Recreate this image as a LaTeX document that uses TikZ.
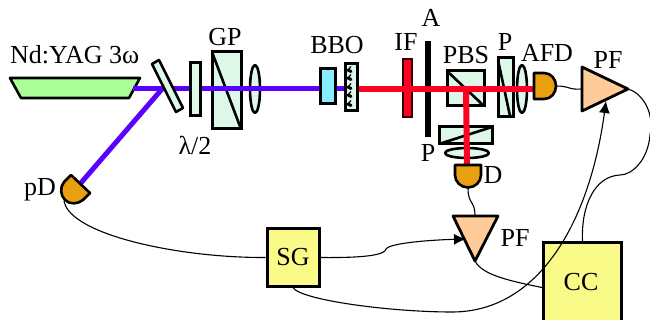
\documentclass[tikz,border=0pt]{standalone}
\usepackage{fontspec}
\setmainfont{Liberation Serif}
\usetikzlibrary{arrows.meta}
\definecolor{mint}{HTML}{DDF8E8}
\definecolor{laser}{HTML}{AAFF99}
\definecolor{cyanbox}{HTML}{88EEFF}
\definecolor{det}{HTML}{E8A010}
\definecolor{amp}{HTML}{FFCC99}
\definecolor{yel}{HTML}{FAFA88}
\definecolor{uv}{HTML}{5A00FF}
\definecolor{redb}{HTML}{FF0022}
\tikzset{
  opt/.style={draw=black,line width=2.6pt,fill=mint,line join=round},
  platen/.style={draw=black,line width=3pt,fill=mint,inner sep=0pt,outer sep=0pt},
  boxn/.style={draw=black,line width=3pt,fill=yel,inner sep=0pt,font=\fontsize{26}{26}\selectfont},
  ampl/.style={draw=black,line width=2.8pt,fill=amp,line join=round},
  detc/.style={draw=black,line width=2.6pt,fill=det,line join=round},
  wire/.style={draw=black,line width=1.1pt},
  lab/.style={inner sep=0pt,font=\fontsize{26}{26}\selectfont},
  uvb/.style={draw=uv,line width=5pt},
  redbeam/.style={draw=redb,line width=6pt},
  tip/.style={-{Latex[length=12pt,width=11pt]}}
}
\begin{document}
\begin{tikzpicture}[x=1pt,y=-1pt]
\useasboundingbox (0,0) rectangle (650,320);
\clip (0,0) rectangle (650,320);
% anchors
\coordinate (mirror) at (162,89);
\coordinate (laserOut) at (133,89);
\coordinate (bboIn) at (345,89);
\coordinate (gratOut) at (357,89);
\coordinate (split) at (466,89);
\coordinate (afdIn) at (534,89);
\coordinate (dIn) at (467,165);
\coordinate (pdIn) at (80,184);
\coordinate (pdOut) at (64,201);
\coordinate (afdOut) at (556,86);
\coordinate (dOut) at (468,188);
\coordinate (pfA) at (582,89);
\coordinate (pfAtip) at (628,89);
\coordinate (pfAbot) at (606,101);
\coordinate (pfBtop) at (475,216);
\coordinate (pfBin) at (466,239);
\coordinate (pfBtip) at (475,261);
% laser
\draw[draw=black,line width=2.6pt,fill=laser,line join=round] (10,78) -- (140,78) -- (129,98) -- (21,98) -- cycle;
% optics under the beams
\node[platen,minimum width=29pt,minimum height=77pt] (gp) at (226.5,90.5) {};
\draw[opt] (gp.north west) -- (gp.south east);
\draw[opt] (255,89) ellipse (5 and 24);
\node[platen,minimum width=37pt,minimum height=35pt] (pbs) at (465.5,88.5) {};
\draw[opt] (pbs.north west) -- (pbs.south east);
\node[platen,draw=black!80!red,line width=1.8pt,fill=redb,minimum width=9pt,minimum height=58pt] (if) at (407.5,88) {};
\draw[black,line width=5.5pt] (428,41) -- (428,137);
\node[platen,minimum width=15pt,minimum height=59pt] (pol) at (505.5,87.5) {};
\draw[opt] (498,60) -- (510,116);
\draw[opt] (522,89) ellipse (5 and 24);
\node[platen,minimum width=53pt,minimum height=17pt] (polb) at (465.5,135.5) {};
\draw[opt] (polb.south west) -- (polb.north east);
\draw[opt] (467,153) ellipse (22 and 5);
% beams
\draw[uvb] (laserOut) -- (bboIn);
\draw[uvb] (mirror) -- (pdIn);
\draw[redbeam] (gratOut) -- (afdIn);
\draw[redbeam] (split) -- (dIn);
% optics over the beams
\draw[opt] (152,64) -- (159,60) -- (183,108) -- (176,112) -- cycle;
\node[platen,minimum width=10pt,minimum height=53pt] (wp) at (195,89.5) {};
\node[platen,fill=cyanbox,minimum width=15pt,minimum height=35pt] (bbo) at (327.5,86.5) {};
\node[platen,minimum width=12pt,minimum height=47pt] (grat) at (351,87.5) {};
\foreach \yy in {70,78,87,95,104}{
  \draw[black,line width=3pt,line cap=round] (348,\yy) -- (351,\yy+1.5);
  \draw[black,line width=1.2pt] (351,\yy-3.5) -- (348,\yy);
}
% detectors
\draw[detc] (534,73) -- (544,73) .. controls (551,73) and (556,79) .. (556,86) .. controls (556,93) and (551,99) .. (544,99) -- (534,99) -- cycle;
\draw[detc] (455,165) -- (481,165) -- (481,175) .. controls (481,182) and (475,187.5) .. (468,187.5) .. controls (461,187.5) and (455,182) .. (455,175) -- cycle;
\draw[detc] (71,175) -- (90,193) -- (83,200) .. controls (78,204) and (70,205) .. (65,200) .. controls (60,195) and (60,187) .. (64,182) -- cycle;
% amplifiers
\draw[ampl] (582,67) -- (582,111) -- (pfAtip) -- cycle;
\draw[ampl] (453,216) -- (498,216) -- (pfBtip) -- cycle;
% boxes
\node[boxn,minimum width=52pt,minimum height=57pt] (SG) at (293,257.5) {SG};
\node[boxn,minimum width=78pt,minimum height=90pt,anchor=north west] (CC) at (542,241) {};
\node[lab] (cctext) at (581,282) {CC};
% wires
\draw[wire] (afdOut) .. controls (570,86) and (568,90) .. (pfA);
\draw[wire] (dOut) .. controls (468,205) and (475,200) .. (pfBtop);
\draw[wire] (pdOut) .. controls (70,235) and (180,258) .. (SG.west);
\draw[wire,tip] (SG.east) .. controls (365,258) and (385,255) .. (386,249) .. controls (390,243) and (430,240) .. (pfBin);
\draw[wire] (pfBtip) .. controls (482,275) and (510,281) .. (CC.west);
\draw[wire,tip] (SG.south) .. controls (300,300) and (390,312) .. (452,312) .. controls (540,312) and (590,220) .. (pfAbot);
\draw[wire] (pfAtip) .. controls (640,92) and (655,110) .. (650,135) .. controls (648,160) and (632,175) .. (620,175) .. controls (595,176) and (581,205) .. (CC.north);
% labels
\node[lab,anchor=base west] (tNd) at (10,64) {Nd:YAG 3ω};
\node[lab] (tGP) at (225,37) {GP};
\node[lab] (tLam) at (195,145) {λ/2};
\node[lab] (tBBO) at (337,45) {BBO};
\node[lab] (tIF) at (406,42) {IF};
\node[lab] (tA) at (431,18) {A};
\node[lab] (tPb) at (428,153) {P};
\node[lab] (tPBS) at (466,55) {PBS};
\node[lab] (tP) at (505,42) {P};
\node[lab] (tAFD) at (547,53) {AFD};
\node[lab] (tPF) at (608,60) {PF};
\node[lab] (tD) at (493,175) {D};
\node[lab] (tPF2) at (515,238) {PF};
\node[lab] (tpD) at (40,190) {pD};
\end{tikzpicture}
\end{document}
